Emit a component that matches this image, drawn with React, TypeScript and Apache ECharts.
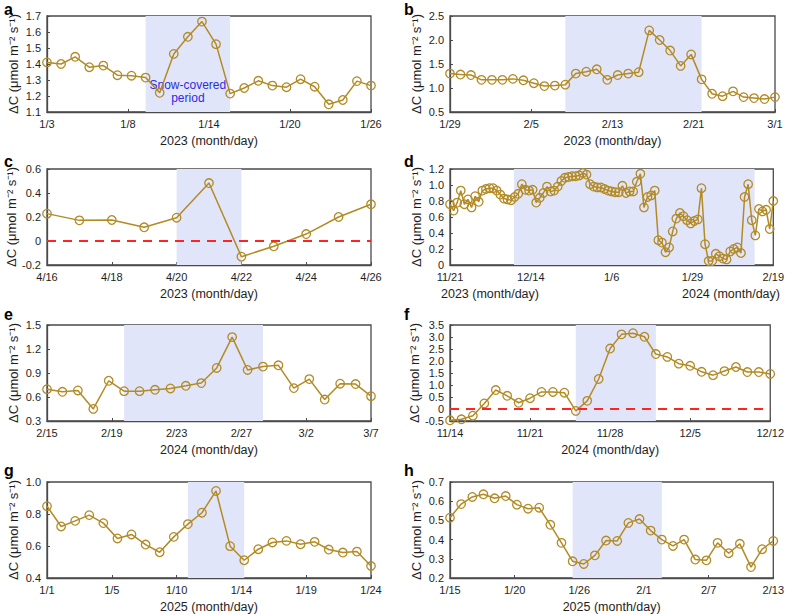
import React, { useEffect, useRef } from "react";
import * as echarts from "echarts";

// ---------- data ----------
const aValues = [1.41, 1.40, 1.445, 1.38, 1.39, 1.33, 1.327, 1.315, 1.22, 1.463, 1.57, 1.665, 1.524, 1.215, 1.25, 1.295, 1.265, 1.255, 1.305, 1.258, 1.148, 1.175, 1.293, 1.265];
const aTicks = ["1/3", "1/8", "1/14", "1/20", "1/26"];
const aShade = [7, 13];

const bValues = [1.30, 1.28, 1.27, 1.17, 1.17, 1.17, 1.19, 1.16, 1.10, 1.04, 1.05, 1.07, 1.30, 1.34, 1.39, 1.17, 1.27, 1.30, 1.33, 2.20, 2.00, 1.78, 1.46, 1.70, 1.18, 0.88, 0.83, 0.93, 0.81, 0.79, 0.77, 0.81];
const bTicks = ["1/29", "2/5", "2/13", "2/21", "3/1"];
const bShade = [11, 24];

const cValues = [0.228, 0.172, 0.175, 0.114, 0.194, 0.483, -0.131, -0.044, 0.058, 0.2, 0.306];
const cTicks = ["4/16", "4/18", "4/20", "4/22", "4/24", "4/26"];
const cShade = [4, 6];

const dValues = [
  0.76, 0.68, 0.78, 0.93, 0.76, 0.82, 0.72, 0.86, 0.79, 0.93,
  0.95, 0.96, 0.96, 0.93, 0.88, 0.83, 0.82, 0.81, 0.85, 0.89,
  1.01, 0.94, 0.93, 0.94, 0.78, 0.84, 0.90, 0.98, 0.92, 0.93,
  0.98, 1.05, 1.09, 1.10, 1.11, 1.11, 1.12, 1.15, 1.13, 1.01,
  0.98, 0.97, 0.97, 0.95, 0.93, 0.92, 0.91, 0.91, 0.99, 0.90,
  0.92, 0.92, 1.04, 1.14, 0.72, 0.85, 0.87, 0.93, 0.31, 0.28,
  0.16, 0.22, 0.42, 0.58, 0.65, 0.61, 0.56, 0.52, 0.55, 0.57,
  0.96, 0.26, 0.05, 0.05, 0.14, 0.11, 0.08, 0.07, 0.17, 0.20,
  0.22, 0.15, 0.85, 1.01, 0.56, 0.37, 0.70, 0.67, 0.69, 0.45,
  0.80,
];
const dTicks = ["11/21", "12/14", "1/6", "1/29", "2/19"];
const dShade = [17.8, 84.8];

const eValues = [0.698, 0.665, 0.682, 0.451, 0.803, 0.673, 0.673, 0.69, 0.707, 0.74, 0.774, 0.963, 1.349, 0.938, 0.98, 0.996, 0.711, 0.824, 0.568, 0.766, 0.762, 0.61];
const eTicks = ["2/15", "2/19", "2/23", "2/27", "3/2", "3/7"];
const eShade = [5, 14];

const fValues = [-0.47, -0.43, -0.28, 0.23, 0.79, 0.55, 0.26, 0.45, 0.71, 0.71, 0.68, -0.08, 0.34, 1.25, 2.52, 3.11, 3.16, 3.01, 2.29, 2.17, 1.89, 1.80, 1.55, 1.41, 1.58, 1.75, 1.54, 1.54, 1.46];
const fTicks = ["11/14", "11/21", "11/28", "12/5", "12/12"];
const fShade = [11, 18];

const gValues = [0.849, 0.722, 0.757, 0.793, 0.743, 0.647, 0.672, 0.609, 0.561, 0.657, 0.737, 0.808, 0.944, 0.599, 0.511, 0.58, 0.622, 0.632, 0.611, 0.626, 0.578, 0.559, 0.565, 0.475];
const gTicks = ["1/1", "1/5", "1/10", "1/14", "1/19", "1/24"];
const gShade = [10, 14];

const hValues = [0.514, 0.585, 0.622, 0.636, 0.615, 0.627, 0.582, 0.561, 0.566, 0.477, 0.383, 0.287, 0.273, 0.318, 0.395, 0.393, 0.487, 0.507, 0.447, 0.40, 0.367, 0.40, 0.296, 0.292, 0.383, 0.329, 0.378, 0.257, 0.35, 0.393];
const hTicks = ["1/15", "1/20", "1/26", "2/1", "2/7", "2/13"];
const hShade = [11, 19];

// y axis ranges: [min, max, interval]
const aY = [1.1, 1.7, 0.1];
const bY = [0.5, 2.5, 0.5];
const cY = [-0.2, 0.6, 0.2];
const dY = [0, 1.2, 0.2];
const eY = [0.3, 1.5, 0.3];
const fY = [-0.5, 3.5, 0.5];
const gY = [0.4, 1.0, 0.2];
const hY = [0.2, 0.7, 0.1];

const panelLetters = ["a", "b", "c", "d", "e", "f", "g", "h"];
const xNames = ["2023 (month/day)", "2023 (month/day)", "2023 (month/day)", "", "2024 (month/day)", "2024 (month/day)", "2025 (month/day)", "2025 (month/day)"];
const dXNames = ["2023 (month/day)", "2024 (month/day)"];
const yName = "ΔC (μmol m⁻² s⁻¹)";
const snowLabel = "Snow-covered\nperiod";

// ---------- style ----------
const FONT = '"Liberation Sans", Arial, Helvetica, sans-serif';
const GOLD = "#b38a24";
const SHADE = "#e1e5fa";
const TEXT = "#1e1e1e";
const AXIS = "#4a4a4a";

const panelData = [
  { values: aValues, ticks: aTicks, shade: aShade, y: aY, zero: false },
  { values: bValues, ticks: bTicks, shade: bShade, y: bY, zero: false },
  { values: cValues, ticks: cTicks, shade: cShade, y: cY, zero: true },
  { values: dValues, ticks: dTicks, shade: dShade, y: dY, zero: false },
  { values: eValues, ticks: eTicks, shade: eShade, y: eY, zero: false },
  { values: fValues, ticks: fTicks, shade: fShade, y: fY, zero: true },
  { values: gValues, ticks: gTicks, shade: gShade, y: gY, zero: false },
  { values: hValues, ticks: hTicks, shade: hShade, y: hY, zero: false },
];

const ROW_TOPS = [16, 169, 325, 482];
const ROW_H = 96;
const COL_LEFT = [47, 450];
const COL_W = [324, 325];
const LETTER_Y = [9, 161, 314, 470];
const LETTER_X = [4, 404];

function fmtY(v: number) {
  if (Math.abs(v) < 1e-9) return "0";
  return v.toFixed(1);
}

function buildOption() {
  const grids: any[] = [];
  const xAxes: any[] = [];
  const yAxes: any[] = [];
  const series: any[] = [];
  const graphics: any[] = [];

  panelData.forEach((p, i) => {
    const col = i % 2;
    const row = Math.floor(i / 2);
    const n = p.values.length - 1;
    const nTick = p.ticks.length - 1;
    const step = n / nTick;
    const tickVals = p.ticks.map((_, k) => k * step);

    grids.push({
      left: COL_LEFT[col],
      top: ROW_TOPS[row],
      width: COL_W[col],
      height: ROW_H,
      show: true,
      borderColor: AXIS,
      borderWidth: 1.3,
      backgroundColor: "transparent",
    });

    xAxes.push({
      type: "value",
      gridIndex: i,
      min: 0,
      max: n,
      name: xNames[i],
      nameLocation: "middle",
      nameGap: 22,
      nameTextStyle: { fontFamily: FONT, fontSize: 12.5, color: TEXT },
      axisLine: { show: true, onZero: false, lineStyle: { color: AXIS, width: 1.3 } },
      axisTick: { show: true, inside: true, length: 3, customValues: tickVals, lineStyle: { color: AXIS } },
      axisLabel: {
        customValues: tickVals,
        margin: 6,
        fontFamily: FONT,
        fontSize: 11,
        color: TEXT,
        formatter: (v: number) => p.ticks[Math.round(v / step)] ?? "",
      },
      splitLine: { show: false },
    });

    yAxes.push({
      type: "value",
      gridIndex: i,
      min: p.y[0],
      max: p.y[1],
      interval: p.y[2],
      name: yName,
      nameLocation: "middle",
      nameGap: 27,
      nameTextStyle: { fontFamily: FONT, fontSize: 13, color: TEXT },
      axisLine: { show: true, lineStyle: { color: AXIS, width: 1.3 } },
      axisTick: { show: true, inside: true, length: 3, lineStyle: { color: AXIS } },
      axisLabel: { margin: 6, fontFamily: FONT, fontSize: 11, color: TEXT, formatter: fmtY },
      splitLine: { show: false },
    });

    const s: any = {
      type: "line",
      xAxisIndex: i,
      yAxisIndex: i,
      data: p.values.map((v, k) => [k, v]),
      symbol: "circle",
      symbolSize: 8.5,
      showAllSymbol: true,
      clip: false,
      lineStyle: { color: GOLD, width: 1.5 },
      itemStyle: { color: "rgba(0,0,0,0)", borderColor: GOLD, borderWidth: 1.3 },
      emphasis: { disabled: true },
      markArea: {
        silent: true,
        itemStyle: { color: SHADE },
        label: i === 0
          ? { show: true, position: "insideBottom", distance: 8, color: "#2b2be6", fontFamily: FONT, fontSize: 12, lineHeight: 13, formatter: snowLabel }
          : { show: false },
        data: [[{ xAxis: p.shade[0] }, { xAxis: p.shade[1] }]],
      },
    };
    if (p.zero) {
      s.markLine = {
        silent: true,
        symbol: ["none", "none"],
        label: { show: false },
        lineStyle: { color: "#ff2424", type: [9, 7], width: 2 },
        data: [{ yAxis: 0 }],
      };
    }
    series.push(s);

    graphics.push({
      type: "text",
      x: LETTER_X[col],
      y: LETTER_Y[row],
      style: {
        text: panelLetters[i],
        fontFamily: FONT,
        fontWeight: "bold",
        fontSize: 16,
        fill: "#000",
        verticalAlign: "middle",
        align: "left",
      },
    });
  });

  // panel d has two x-axis names
  const dLeft = COL_LEFT[1];
  const dTop = ROW_TOPS[1] + ROW_H + 29;
  graphics.push({
    type: "text",
    x: dLeft + 40,
    y: dTop,
    style: { text: dXNames[0], fontFamily: FONT, fontSize: 12.5, fill: TEXT, align: "center", verticalAlign: "middle" },
  });
  graphics.push({
    type: "text",
    x: dLeft + COL_W[1] - 44,
    y: dTop,
    style: { text: dXNames[1], fontFamily: FONT, fontSize: 12.5, fill: TEXT, align: "center", verticalAlign: "middle" },
  });

  return {
    animation: false,
    backgroundColor: "#ffffff",
    grid: grids,
    xAxis: xAxes,
    yAxis: yAxes,
    series,
    graphic: graphics,
  };
}

export default function App() {
  const ref = useRef<HTMLDivElement>(null);
  useEffect(() => {
    if (!ref.current) return;
    const chart = echarts.init(ref.current, undefined, { renderer: "svg" });
    chart.setOption(buildOption() as any);
    return () => {
      chart.dispose();
    };
  }, []);
  return (
    <div
      ref={ref}
      style={{ position: "absolute", left: 0, top: 0, width: 787, height: 615, background: "#fff" }}
    />
  );
}
